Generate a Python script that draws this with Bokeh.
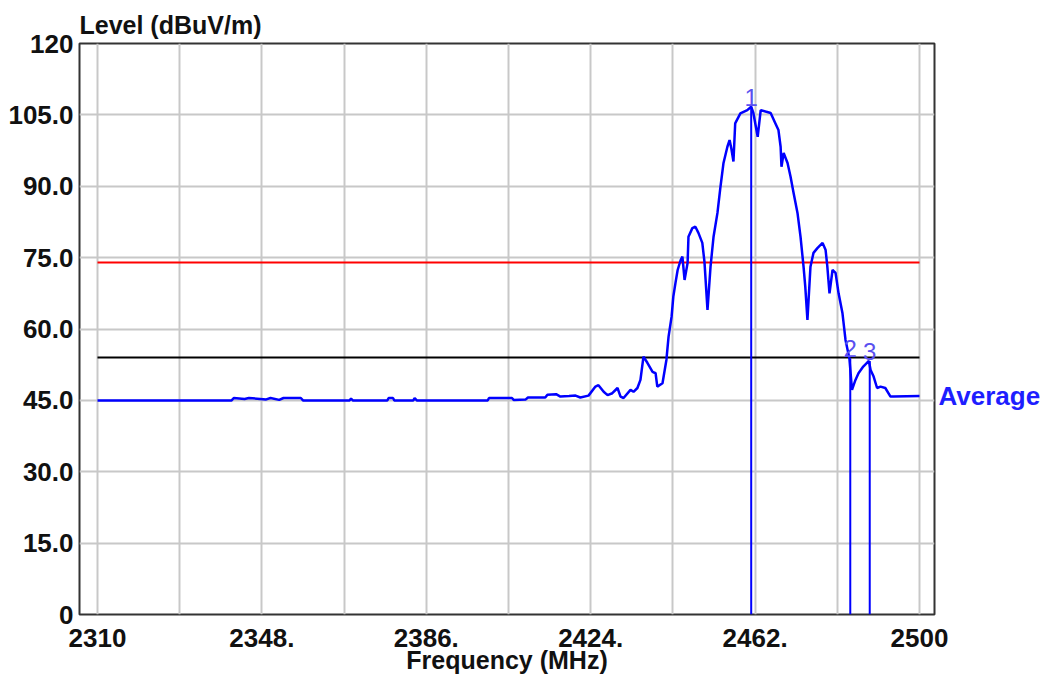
from bokeh.plotting import figure
from bokeh.models import Range1d, FixedTicker, Label, LinearAxis
from bokeh.embed import file_html
from bokeh.resources import INLINE

# ---- data ----
freq = [2310.0, 2341.0, 2341.5, 2344.0, 2345.0, 2349.0, 2350.0, 2352.0, 2353.0, 2357.0,
        2357.5, 2368.3, 2368.6, 2369.0, 2377.0, 2377.3, 2378.3, 2378.6, 2383.0, 2383.3,
        2383.8, 2400.2, 2400.5, 2405.8, 2406.2, 2409.0, 2409.5, 2413.5, 2414.0, 2416.0,
        2417.0, 2419.0, 2420.5, 2421.6, 2423.5, 2425.1, 2425.8, 2427.0, 2427.9, 2429.0,
        2430.2, 2430.9, 2431.6, 2433.2, 2433.9, 2434.8, 2435.5, 2436.2, 2437.1, 2438.3,
        2439.0, 2439.4, 2440.6, 2441.5, 2442.0, 2442.7, 2443.1, 2443.6, 2444.1, 2444.8,
        2445.2, 2445.7, 2446.4, 2446.6, 2447.5, 2448.2, 2448.9, 2449.8, 2450.3, 2451.0,
        2451.7, 2452.4, 2453.3, 2454.0, 2454.7, 2455.6, 2456.1, 2456.5, 2457.0, 2457.4,
        2458.6, 2460.2, 2461.1, 2461.6, 2462.6, 2463.3, 2464.4, 2465.6, 2466.7, 2467.4,
        2467.9, 2468.1, 2468.6, 2469.5, 2470.2, 2470.9, 2471.8, 2472.5, 2473.2, 2473.6,
        2474.1, 2474.8, 2475.5, 2476.4, 2477.6, 2478.3, 2478.7, 2479.2, 2479.9, 2480.6,
        2481.3, 2482.2, 2482.9, 2483.8, 2484.4, 2485.2, 2485.9, 2487.0, 2488.3, 2488.7,
        2489.4, 2490.2, 2491.0, 2492.1, 2493.3, 2494.0, 2500.0]
level = [45.0, 45.0, 45.5, 45.3, 45.5, 45.2, 45.5, 45.1, 45.5, 45.5,
         45.0, 45.0, 45.4, 45.0, 45.0, 45.5, 45.5, 45.0, 45.0, 45.5,
         45.0, 45.0, 45.5, 45.5, 45.1, 45.2, 45.6, 45.6, 46.2, 46.3,
         45.8, 45.9, 46.0, 45.6, 46.0, 47.9, 48.2, 46.8, 46.1, 46.5,
         47.6, 45.8, 45.5, 47.2, 46.8, 47.6, 49.3, 54.2, 52.9, 51.0,
         50.7, 47.9, 48.6, 53.5, 58.4, 62.6, 66.8, 69.7, 72.4, 74.5,
         75.2, 70.3, 73.9, 79.4, 81.2, 81.5, 80.2, 78.1, 74.1, 64.0,
         73.1, 79.4, 84.4, 89.9, 94.9, 98.3, 99.7, 98.0, 95.2, 103.2,
         105.3, 106.0, 106.7, 105.4, 100.4, 106.0, 105.7, 105.4, 103.2, 101.8,
         98.3, 94.1, 97.0, 94.9, 92.0, 88.6, 84.4, 79.4, 73.1, 68.9,
         61.9, 73.1, 76.0, 77.0, 78.1, 76.6, 73.1, 67.5, 72.4, 71.8,
         67.5, 63.3, 57.7, 53.8, 47.2, 49.3, 50.7, 52.1, 53.3, 51.4,
         50.0, 47.6, 47.9, 47.6, 45.8, 45.8, 45.9]

marker_names = ["1", "2", "3"]
marker_freq = [2461.1, 2484.0, 2488.5]
marker_level = [106.7, 53.8, 53.3]

limit_peak = 74.0
limit_avg = 54.0

x_ticks = [2310, 2348, 2386, 2424, 2462, 2500]
x_tick_labels = ["2310", "2348.", "2386.", "2424.", "2462.", "2500"]
x_grid = [2310, 2329, 2348, 2367, 2386, 2405, 2424, 2443, 2462, 2481, 2500]
y_ticks = [0, 15, 30, 45, 60, 75, 90, 105, 120]
y_tick_labels = ["0", "15.0", "30.0", "45.0", "60.0", "75.0", "90.0", "105.0", "120"]

trace_name = "Average"
y_title = "Level (dBuV/m)"
x_title = "Frequency (MHz)"

# ---- figure ----
X0, X1 = 2305.84, 2503.47
p = figure(width=1046, height=682, output_backend="svg", toolbar_location=None,
           x_range=Range1d(X0, X1), y_range=Range1d(0, 120),
           min_border_left=79, min_border_right=112, min_border_top=43, min_border_bottom=68)
p.background_fill_color = "white"
p.border_fill_color = "white"
p.outline_line_color = "#333333"
p.outline_line_width = 2

FONT = "Liberation Sans"
TXT = "#111111"

p.title.text = y_title
p.title.align = "left"
p.title.text_font = FONT
p.title.text_font_style = "bold"
p.title.text_font_size = "25px"
p.title.text_color = TXT
p.title.standoff = 9

p.xaxis.ticker = FixedTicker(ticks=x_ticks)
p.xaxis.major_label_overrides = {t: s for t, s in zip(x_ticks, x_tick_labels)}
p.yaxis.ticker = FixedTicker(ticks=y_ticks)
p.yaxis.major_label_overrides = {t: s for t, s in zip(y_ticks, y_tick_labels)}

avg_axis = LinearAxis(ticker=FixedTicker(ticks=[level[-1]]),
                      major_label_overrides={level[-1]: trace_name})
p.add_layout(avg_axis, "right")

for ax in (p.xaxis[0], p.yaxis[0], avg_axis):
    ax.axis_line_color = None
    ax.major_tick_line_color = None
    ax.minor_tick_line_color = None
    ax.major_tick_out = 0
    ax.major_tick_in = 0
    ax.major_label_text_font = FONT
    ax.major_label_text_font_style = "bold"
    ax.major_label_text_font_size = "26px"
    ax.major_label_text_color = TXT
p.xaxis.major_label_standoff = 14
p.yaxis.major_label_standoff = 6
avg_axis.major_label_standoff = 4
avg_axis.major_label_text_color = "#1e1eff"
avg_axis.major_label_text_font_size = "26px"

p.xaxis.axis_label = x_title
p.xaxis.axis_label_standoff = -4
p.xaxis.axis_label_text_font = FONT
p.xaxis.axis_label_text_font_style = "bold"
p.xaxis.axis_label_text_font_size = "25px"
p.xaxis.axis_label_text_color = TXT

p.xgrid.ticker = FixedTicker(ticks=x_grid)
p.ygrid.ticker = FixedTicker(ticks=y_ticks)
for g in (p.xgrid[0], p.ygrid[0]):
    g.grid_line_color = "#c8c8c8"
    g.grid_line_width = 2

# limit lines
p.line([x_ticks[0], x_ticks[-1]], [limit_peak, limit_peak], line_color="#ff0000", line_width=2)
p.line([x_ticks[0], x_ticks[-1]], [limit_avg, limit_avg], line_color="#000000", line_width=2)

# trace
p.line(freq, level, line_color="#0000ff", line_width=2.5)

# markers
p.segment(x0=marker_freq, y0=[0] * len(marker_freq), x1=marker_freq, y1=marker_level,
          line_color="#0000ff", line_width=2)
for name, f, lv in zip(marker_names, marker_freq, marker_level):
    p.add_layout(Label(x=f, y=lv + 2.0, text=name, text_align="center",
                       text_baseline="alphabetic", text_font=FONT, text_font_size="24px",
                       text_color="#5a50f0"))

open("out.html", "w").write(file_html(p, INLINE))
